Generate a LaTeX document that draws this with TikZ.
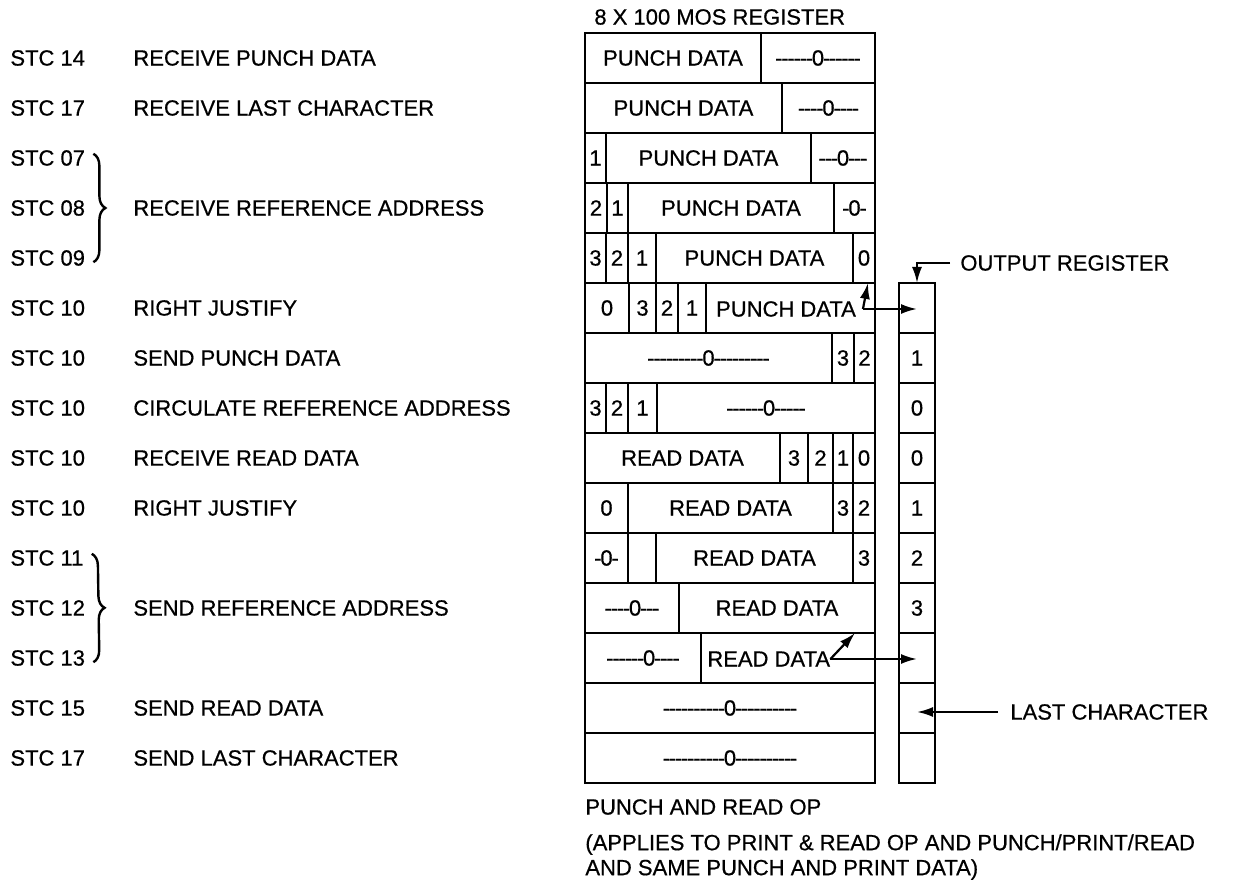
\documentclass[tikz,border=0pt]{standalone}
\usepackage{fontspec}
\setmainfont{Liberation Sans}[FakeBold=0.6]
\usetikzlibrary{calc,positioning,arrows.meta,decorations.pathreplacing}
% run of hyphens with a zero in it
\newcommand{\zfill}[2]{%
  \foreach\zi in {1,...,#1}{-\kern-0.6pt}0\foreach\zi in {1,...,#2}{\kern-0.6pt-}}
% one box of a register: name, left x, right x, row, text
\newcommand{\regcell}[5]{%
  \node[cellbox, minimum width={(#3-#2)*0.5pt}, anchor=north west]
    (#1) at (#2,{33+50*(#4-1)}) {#5};}
% one STC line on the left: name, row, number, text
\newcommand{\stcline}[4]{%
  \node[lbl] (#1) at (10,{58+50*(#2-1)}) {STC #3};
  \node[lbl] (#1t) at (133,{58+50*(#2-1)}) {#4};}
\newcommand{\stcbrace}[2]{%
  \draw[decorate,decoration={brace,amplitude=6pt},line width=1.2pt]
    ($(#1.north east)+(8,4)$) -- ($(#2.south east)+(8,-4)$);}

\begin{document}
\begin{tikzpicture}[x=0.5pt,y=-0.5pt,
  font=\fontsize{11}{13}\selectfont,
  cellbox/.style={draw, line width=1.2pt, inner sep=0pt, outer sep=0pt,
    minimum height=25pt},
  lbl/.style={anchor=west, inner sep=0pt},
  arr/.style={line width=1.1pt, -{Latex[length=8pt,width=5pt]}}]

  \useasboundingbox (0,0) rectangle (1244,886);

  % left column
  \stcline{s1}{1}{14}{RECEIVE PUNCH DATA}
  \stcline{s2}{2}{17}{RECEIVE LAST CHARACTER}
  \stcline{s3}{3}{07}{}
  \stcline{s4}{4}{08}{RECEIVE REFERENCE ADDRESS}
  \stcline{s5}{5}{09}{}
  \stcline{s6}{6}{10}{RIGHT JUSTIFY}
  \stcline{s7}{7}{10}{SEND PUNCH DATA}
  \stcline{s8}{8}{10}{CIRCULATE REFERENCE ADDRESS}
  \stcline{s9}{9}{10}{RECEIVE READ DATA}
  \stcline{s10}{10}{10}{RIGHT JUSTIFY}
  \stcline{s11}{11}{11}{}
  \stcline{s12}{12}{12}{SEND REFERENCE ADDRESS}
  \stcline{s13}{13}{13}{}
  \stcline{s14}{14}{15}{SEND READ DATA}
  \stcline{s15}{15}{17}{SEND LAST CHARACTER}
  \stcbrace{s3}{s5}
  \stcbrace{s11}{s13}

  % MOS register
  \node[lbl] (title) at (594,17) {8 X 100 MOS REGISTER};
  \regcell{r1a}{585}{761}{1}{PUNCH DATA}
  \regcell{r1b}{761}{875}{1}{\zfill{6}{6}}
  \regcell{r2a}{585}{782}{2}{PUNCH DATA}
  \regcell{r2b}{782}{875}{2}{\zfill{4}{4}}
  \regcell{r3a}{585}{606}{3}{1}
  \regcell{r3b}{606}{811}{3}{PUNCH DATA}
  \regcell{r3c}{811}{875}{3}{\zfill{3}{3}}
  \regcell{r4a}{585}{607}{4}{2}
  \regcell{r4b}{607}{628}{4}{1}
  \regcell{r4c}{628}{834}{4}{PUNCH DATA}
  \regcell{r4d}{834}{875}{4}{\zfill{1}{1}}
  \regcell{r5a}{585}{606}{5}{3}
  \regcell{r5b}{606}{628}{5}{2}
  \regcell{r5c}{628}{656}{5}{1}
  \regcell{r5d}{656}{853}{5}{PUNCH DATA}
  \regcell{r5e}{853}{875}{5}{0}
  \regcell{r6a}{585}{629}{6}{0}
  \regcell{r6b}{629}{656}{6}{3}
  \regcell{r6c}{656}{678}{6}{2}
  \regcell{r6d}{678}{706}{6}{1}
  \regcell{r6e}{706}{875}{6}{}
  \node (pd6) at (786,309) {PUNCH DATA};
  \regcell{r7a}{585}{832}{7}{\zfill{9}{9}}
  \regcell{r7b}{832}{854}{7}{3}
  \regcell{r7c}{854}{875}{7}{2}
  \regcell{r8a}{585}{606}{8}{3}
  \regcell{r8b}{606}{628}{8}{2}
  \regcell{r8c}{628}{657}{8}{1}
  \regcell{r8d}{657}{875}{8}{\zfill{6}{5}}
  \regcell{r9a}{585}{780}{9}{READ DATA}
  \regcell{r9b}{780}{808}{9}{3}
  \regcell{r9c}{808}{833}{9}{2}
  \regcell{r9d}{833}{853}{9}{1}
  \regcell{r9e}{853}{875}{9}{0}
  \regcell{r10a}{585}{628}{10}{0}
  \regcell{r10b}{628}{833}{10}{READ DATA}
  \regcell{r10c}{833}{853}{10}{3}
  \regcell{r10d}{853}{875}{10}{2}
  \regcell{r11a}{585}{628}{11}{\zfill{1}{1}}
  \regcell{r11b}{628}{656}{11}{}
  \regcell{r11c}{656}{853}{11}{READ DATA}
  \regcell{r11d}{853}{875}{11}{3}
  \regcell{r12a}{585}{679}{12}{\zfill{4}{3}}
  \regcell{r12b}{679}{875}{12}{READ DATA}
  \regcell{r13a}{585}{701}{13}{\zfill{6}{4}}
  \regcell{r13b}{701}{875}{13}{}
  \node[lbl] (rd13) at (707,659) {READ DATA};
  \regcell{r14a}{585}{875}{14}{\zfill{10}{10}}
  \regcell{r15a}{585}{875}{15}{\zfill{10}{10}}

  % output register
  \regcell{o6}{899}{935}{6}{}
  \regcell{o7}{899}{935}{7}{1}
  \regcell{o8}{899}{935}{8}{0}
  \regcell{o9}{899}{935}{9}{0}
  \regcell{o10}{899}{935}{10}{1}
  \regcell{o11}{899}{935}{11}{2}
  \regcell{o12}{899}{935}{12}{3}
  \regcell{o13}{899}{935}{13}{}
  \regcell{o14}{899}{935}{14}{}
  \regcell{o15}{899}{935}{15}{}

  \node[lbl, inner xsep=5pt] (outlbl) at (950,263) {OUTPUT REGISTER};
  \node[lbl, inner xsep=6pt] (lastlbl) at (998,712) {LAST CHARACTER};

  \coordinate (tip6) at (868,283);
  \coordinate (tip13) at (855,633);
  \draw[arr] (outlbl.west) -| (o6.north);
  \draw[arr] (pd6.east) -- (pd6.east -| o6.center);
  \draw[arr] (pd6.east) -- (tip6);
  \draw[arr] (rd13.east) -- (rd13.east -| o13.center);
  \draw[arr] (rd13.east) -- (tip13);
  \draw[arr] (lastlbl.west) -- (lastlbl.west -| o14.center);

  % notes below
  \node[lbl] (opnote) at (585,807) {PUNCH AND READ OP};
  \node[lbl, align=left, font=\fontsize{11}{12.5}\selectfont] (appnote) at (585,857)
    {(APPLIES TO PRINT \& READ OP AND PUNCH/PRINT/READ\\AND SAME PUNCH AND PRINT DATA)};

\end{tikzpicture}
\end{document}
